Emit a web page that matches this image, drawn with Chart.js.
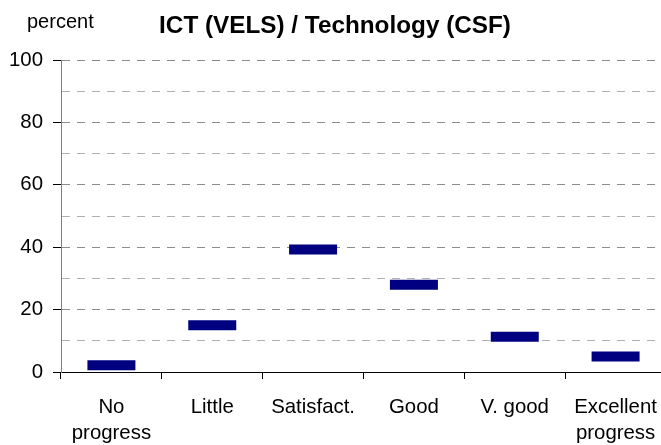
<!DOCTYPE html>
<html><head><meta charset="utf-8">
<style>
html,body{margin:0;padding:0;background:#fff;overflow:hidden;width:661px;height:445px}
#wrap{position:relative;width:700px;height:445px}
</style>
<script src="https://cdn.jsdelivr.net/npm/chart.js@4/dist/chart.umd.min.js"></script>
</head><body>
<div id="wrap"><canvas id="c" width="700" height="445"></canvas></div>
<script>
const categories = [['No', 'progress'], 'Little', 'Satisfact.', 'Good', 'V. good', ['Excellent', 'progress']];
const percentValues = [2.2, 15, 39.3, 28, 11.3, 5];
const yTickLabels = [0, 20, 40, 60, 80, 100];
const chartTitle = 'ICT (VELS) / Technology (CSF)';
const yUnitLabel = 'percent';

const FONT = '"Liberation Sans", Arial, Helvetica, sans-serif';

const textPlugin = {
  id: 'textPlugin',
  afterDraw(chart) {
    const ctx = chart.ctx;
    ctx.save();
    ctx.fillStyle = '#000';
    ctx.textBaseline = 'alphabetic';
    ctx.font = 'bold 24.3px ' + FONT;
    ctx.textAlign = 'center';
    ctx.fillText(chartTitle, 335, 33);
    ctx.font = '20px ' + FONT;
    ctx.textAlign = 'left';
    ctx.fillText(yUnitLabel, 27, 28);
    ctx.restore();
  }
};

new Chart(document.getElementById('c'), {
  type: 'line',
  data: {
    labels: categories,
    datasets: [{
      data: percentValues,
      showLine: false,
      pointStyle: 'line',
      pointRadius: 24,
      pointHoverRadius: 24,
      pointBorderWidth: 10,
      pointHoverBorderWidth: 10,
      pointBorderColor: '#000080',
      pointBackgroundColor: '#000080',
      clip: false
    }]
  },
  options: {
    responsive: false,
    devicePixelRatio: 1,
    animation: false,
    events: [],
    layout: { padding: { top: 60, right: 29, left: 0, bottom: 0 } },
    plugins: { legend: { display: false }, title: { display: false }, tooltip: { enabled: false } },
    scales: {
      x: {
        type: 'category',
        offset: true,
        afterFit(s) { s.height = 73; },
        grid: {
          display: true, offset: true, drawOnChartArea: false, drawTicks: true,
          tickLength: 7, tickColor: '#000', tickWidth: 1
        },
        border: { display: true, color: '#000', width: 1 },
        ticks: {
          color: '#000', padding: 15, maxRotation: 0, autoSkip: false,
          font: { family: FONT, size: 20.4, lineHeight: 1.3 }
        }
      },
      y: {
        min: 0, max: 100,
        afterFit(s) { s.width = 61; },
        ticks: {
          stepSize: 10, color: '#000', padding: 10,
          font: { family: FONT, size: 20.4 },
          callback: (v) => yTickLabels.includes(v) ? String(v) : ''
        },
        grid: {
          drawTicks: true, tickLength: 8,
          color: (c) => c.tick && c.tick.value === 0 ? 'rgba(0,0,0,0)' : (c.tick && c.tick.value % 20 === 0 ? '#8c8c8c' : '#b0b0b0'),
          tickColor: (c) => c.tick && yTickLabels.includes(c.tick.value) ? '#000' : 'rgba(0,0,0,0)',
          tickBorderDash: []
        },
        border: { display: true, color: '#808080', width: 1, dash: [8, 7] }
      }
    }
  },
  plugins: [textPlugin]
});
</script>
</body></html>
